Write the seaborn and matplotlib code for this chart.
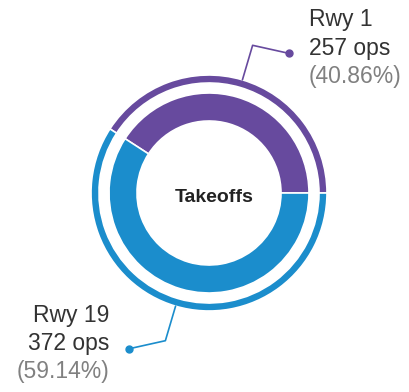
import matplotlib
matplotlib.use("Agg")
import matplotlib.pyplot as plt
import seaborn as sns
import numpy as np

# Takeoff counts by runway
runways = ["Rwy 1", "Rwy 19"]
ops = [257, 372]
shares = ["40.86%", "59.14%"]
colors = ["#674a9e", "#1b8dcc"]
center_label = "Takeoffs"

sns.set_theme(style="white")
plt.rcParams["font.family"] = ["Liberation Sans", "DejaVu Sans"]

W, H = 410, 392
fig = plt.figure(figsize=(W / 100, H / 100), dpi=100)
ax = fig.add_axes([0, 0, 1, 1])

# donut geometry in pixel-like data units (y up)
cx, cy = 209, H - 193
r_main, w_main = 100, 28
r_rim, w_rim = 118, 8
start = 0

common = dict(startangle=start, counterclock=True, colors=colors, center=(cx, cy))
wedges, _ = ax.pie(ops, radius=r_main,
                   wedgeprops=dict(width=w_main, edgecolor="white", linewidth=1.2),
                   **common)
ax.pie(ops, radius=r_rim,
       wedgeprops=dict(width=w_rim, edgecolor="white", linewidth=1.2),
       **common)

ax.set_xlim(0, W)
ax.set_ylim(0, H)
ax.set_aspect("equal")
ax.axis("off")

# leader lines and labels
r_elbow = 154
leg_dx, leg_dy = 36, 8
text_gap = 20
line_offsets = [27, -1.5, -29.5]
for wedge, name, n, pct, col in zip(wedges, runways, ops, shares, colors):
    mid = np.deg2rad((wedge.theta1 + wedge.theta2) / 2)
    ux, uy = np.cos(mid), np.sin(mid)
    p0 = (cx + r_rim * ux, cy + r_rim * uy)
    p1 = (cx + r_elbow * ux, cy + r_elbow * uy)
    side = 1 if ux >= 0 else -1
    p2 = (p1[0] + side * leg_dx, p1[1] - leg_dy)
    ax.plot([p0[0], p1[0], p2[0]], [p0[1], p1[1], p2[1]], color=col, lw=1.2,
            solid_capstyle="round")
    ax.plot(p2[0], p2[1], "o", color=col, ms=5)
    tx = p2[0] + side * text_gap
    ha = "left" if side > 0 else "right"
    texts = [name, f"{n} ops", f"({pct})"]
    tcolors = ["#333333", "#333333", "#808080"]
    for t, tc, off in zip(texts, tcolors, line_offsets):
        ax.text(tx, p2[1] + off, t, ha=ha, va="baseline", fontsize=16.5, color=tc)

ax.text(cx + 5, cy - 3, center_label, ha="center", va="center_baseline",
        fontsize=14, fontweight="bold", color="#222222")

fig.savefig("out.png", dpi=100, facecolor="white")
